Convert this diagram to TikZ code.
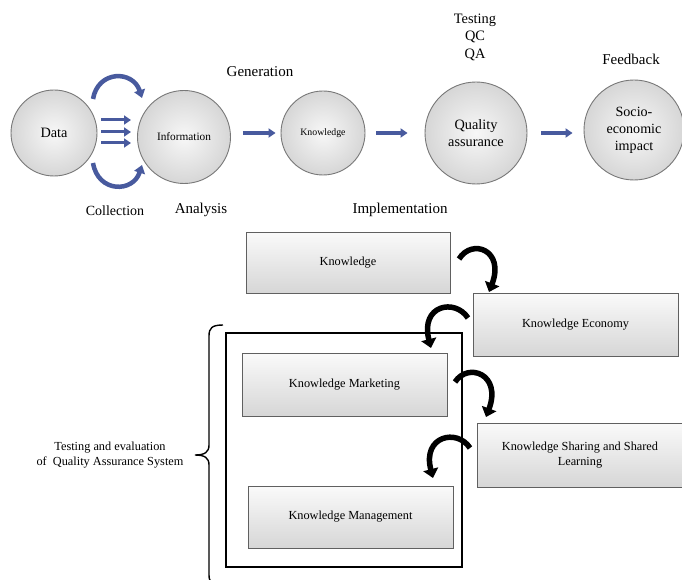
\documentclass[tikz,border=0pt]{standalone}
\usepackage{fontspec}
\setmainfont{Liberation Serif}
\usetikzlibrary{arrows.meta,calc,shadows}
\definecolor{arrowblue}{RGB}{72,90,158}
\definecolor{circborder}{RGB}{120,120,120}
\begin{document}
\begin{tikzpicture}[x=1pt,y=-1pt,
  circ/.style={circle,draw=circborder,line width=0.9pt,inner color=gray!6,outer color=gray!32,align=center,inner sep=0pt},
  gbox/.style={draw=gray!75!black,line width=0.7pt,top color=gray!4,bottom color=gray!32,minimum width=#1,align=center,inner sep=0pt,
     drop shadow={opacity=0.25,shadow xshift=1pt,shadow yshift=-1pt}},
  lbl/.style={font=\fontsize{15}{17}\selectfont,align=center,inner sep=0pt},
  boxtext/.style={font=\fontsize{12.3}{15}\selectfont},
  barrow/.style={draw=arrowblue,line width=3.5pt,-{Triangle[width=9pt,length=7pt]},arrowblue},
  carrow/.style={draw=arrowblue,line width=4.5pt,-{Triangle[width=11pt,length=8pt]},arrowblue},
  karrow/.style={draw=black,line width=5.5pt,-{Triangle[width=15pt,length=9pt]}}]
\useasboundingbox (0,0) rectangle (682,580);
\fill[white] (0,0) rectangle (682,580);

% circles
\node[circ,minimum size=86pt,font=\fontsize{14.3}{16}\selectfont] (data) at (54,133) {Data};
\node[circ,minimum size=93pt,font=\fontsize{11.3}{13}\selectfont] (info) at (184,137) {Information};
\node[circ,minimum size=84pt,font=\fontsize{9.8}{12}\selectfont] (know) at (323,133) {Knowledge};
\node[circ,minimum size=102pt,font=\fontsize{14.3}{17}\selectfont] (qa) at (476,133) {Quality\\assurance};
\node[circ,minimum size=100pt,font=\fontsize{14.1}{17}\selectfont] (socio) at (634,130) {Socio-\\economic\\impact};

% top labels
\node[lbl] (gen) at (260,72) {Generation};
\node[lbl,font=\fontsize{14.4}{17.5}\selectfont] (test) at (475,37) {Testing\\QC\\QA};
\node[lbl] (feed) at (631,59) {Feedback};
\node[lbl,font=\fontsize{14}{16}\selectfont] (coll) at (115,211) {Collection};
\node[lbl] (anal) at (201,210) {Analysis};
\node[lbl] (impl) at (400,210) {Implementation};

% blue arrows between circles
\coordinate (a1s) at (101,120); \coordinate (a1e) at (131,120);
\coordinate (a2s) at (101,132); \coordinate (a2e) at (131,132);
\coordinate (a3s) at (101,143); \coordinate (a3e) at (131,143);
\draw[barrow,line width=3pt] (a1s) -- (a1e);
\draw[barrow,line width=3pt] (a2s) -- (a2e);
\draw[barrow,line width=3pt] (a3s) -- (a3e);
\coordinate (t1) at (93,99); \coordinate (t2) at (142,98);
\coordinate (b1) at (93,163); \coordinate (b2) at (142,165);
\draw[carrow] (t1) .. controls (98,70) and (133,70) .. (t2);
\draw[carrow] (b1) .. controls (98,193) and (133,193) .. (b2);

\draw[barrow,shorten <=12pt,shorten >=5pt] (info.east |- know.center) -- (know.west);
\draw[barrow,shorten <=11pt,shorten >=17pt] (know.east) -- (qa.west);
\draw[barrow,shorten <=14pt,shorten >=11pt] (qa.east) -- (socio.west |- qa.center);

% outer frame and brace
\node[draw=black,line width=1.3pt,minimum width=236pt,minimum height=234pt,inner sep=0pt] (frame) at (344,450) {};
\begin{scope}
\clip (0,0) rectangle (682,580);
\draw[line width=1.4pt] (223,325) .. controls (212,325) and (209,328) .. (209,336) -- (209,445)
   .. controls (209,452) and (205,455) .. (195,455)
   .. controls (205,455) and (209,458) .. (209,465) -- (209,575)
   .. controls (209,582) and (212,585) .. (223,585);
\end{scope}
\node[boxtext,align=center] (qas) at (110,455) {Testing and evaluation\\of\ \ Quality Assurance System};

% boxes
\node[gbox=204pt,minimum height=61pt,boxtext] (kbox) at (348,262.5) {Knowledge};
\node[gbox=205pt,minimum height=63pt,boxtext] (keco) at (575.5,324.5) {Knowledge Economy};
\node[gbox=205pt,minimum height=63pt,boxtext] (kmar) at (344.5,384.5) {Knowledge Marketing};
\node[gbox=206pt,minimum height=64pt,boxtext] (kshare) at (580,455) {Knowledge Sharing and Shared\\Learning};
\node[gbox=205pt,minimum height=62pt,boxtext] (kman) at (350.5,517) {Knowledge Management};

% black curved arrows
\coordinate (k1s) at (459,259); \coordinate (k1e) at (489,292);
\coordinate (k2s) at (468,318); \coordinate (k2e) at (431,348);
\coordinate (k3s) at (455,382); \coordinate (k3e) at (486,417);
\coordinate (k4s) at (470,448); \coordinate (k4e) at (433,478);
\draw[karrow] (k1s) .. controls (472,238) and (505,250) .. (k1e);
\draw[karrow] (k2s) .. controls (455,298) and (420,305) .. (k2e);
\draw[karrow] (k3s) .. controls (468,362) and (502,374) .. (k3e);
\draw[karrow] (k4s) .. controls (457,428) and (422,436) .. (k4e);
\end{tikzpicture}
\end{document}
